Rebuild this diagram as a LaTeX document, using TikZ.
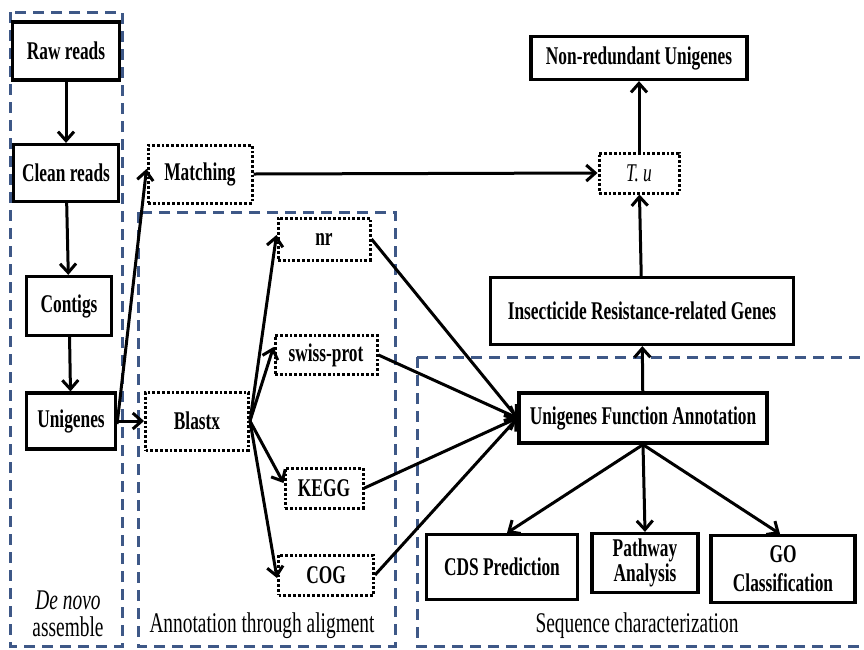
\documentclass[tikz,border=0pt]{standalone}
\usepackage{fontspec}
\setmainfont{Liberation Serif}[FakeStretch=0.68]
\usetikzlibrary{arrows.meta}
\definecolor{dashblue}{RGB}{62,88,135}
\begin{document}
\begin{tikzpicture}[x=1pt,y=-1pt,
  box/.style={draw, line width=3.2pt, inner sep=0pt, align=center, font=\fontsize{25.5}{26}\selectfont\bfseries},
  dbox/.style={box, line width=3pt, dash pattern=on 2.8pt off 2pt},
  grp/.style={draw=dashblue, line width=3pt, dash pattern=on 11pt off 7pt},
  arr/.style={line width=3pt, -{Straight Barb[length=9pt,width=16pt,line width=3pt]}},
  lab/.style={font=\fontsize{28.5}{27}\selectfont, align=center, inner sep=0pt}
]
\useasboundingbox (0,0) rectangle (864,649);
\begin{scope}
\clip (0,0) rectangle (864,649);
% group frames
\draw[grp] (10,12) rectangle (122,646);
\draw[grp] (138,212) rectangle (395,646);
\draw[grp] (417,357) -- (880,357);
\draw[grp] (417,357) -- (417,646) -- (880,646);
\end{scope}
% nodes
\node[box, minimum width=107pt, minimum height=58pt] (raw) at (66,51) {Raw reads};
\node[box, minimum width=105pt, minimum height=57pt] (clean) at (66,173) {Clean reads};
\node[box, minimum width=85pt, minimum height=59pt] (contig) at (69,306) {Contigs};
\node[box, minimum width=89pt, minimum height=56pt] (uni) at (71,421) {Unigenes};
\node[dbox, minimum width=104pt, minimum height=58pt] (match) at (200,174) {Matching};
\node[dbox, minimum width=103pt, minimum height=58pt] (blast) at (197,421) {Blastx};
\node[dbox, minimum width=92pt, minimum height=42pt] (nr) at (324,239) {nr};
\node[dbox, minimum width=102pt, minimum height=39pt] (swiss) at (326,355) {swiss-prot};
\node[dbox, minimum width=78pt, minimum height=40pt] (kegg) at (324,488) {KEGG};
\node[dbox, minimum width=95pt, minimum height=40pt] (cog) at (326,575) {COG};
\node[box, minimum width=216pt, minimum height=43pt] (nonred) at (639,58) {Non-redundant Unigenes};
\node[dbox, minimum width=80pt, minimum height=40pt, font=\fontsize{25.5}{26}\selectfont\itshape] (tu) at (639,173) {T. u};
\node[box, minimum width=303pt, minimum height=67pt] (insect) at (642,311) {Insecticide Resistance-related Genes};
\node[box, minimum width=248pt, minimum height=50pt] (ufa) at (643,418) {Unigenes Function Annotation};
\node[box, minimum width=151pt, minimum height=65pt] (cds) at (502,567) {CDS Prediction};
\node[box, minimum width=106pt, minimum height=59pt, font=\fontsize{25.5}{25}\selectfont\bfseries] (path) at (645,563) {Pathway\\Analysis};
\node[box, minimum width=144pt, minimum height=67pt, font=\fontsize{25.5}{29}\selectfont\bfseries] (go) at (783,569) {GO\\Classification};
% labels
\node[lab] (lab1) at (68,614) {\itshape De novo\\assemble};
\node[lab] (lab2) at (262,626) {Annotation through aligment};
\node[lab] (lab3) at (637,626) {Sequence characterization};
% connectors
\draw[arr] (raw) -- (clean);
\draw[arr] (clean) -- (contig);
\draw[arr] (contig) -- (uni);
\draw[arr] ([yshift=-3pt]uni.east) -- ([yshift=5pt]match.west);
\draw[arr] (uni.east) -- (blast.west);
\draw[arr] (blast.east) -- ([yshift=4pt]nr.west);
\draw[arr] (blast.east) -- ([yshift=8pt]swiss.west);
\draw[arr] (blast.east) -- ([yshift=5pt]kegg.west);
\draw[arr] (blast.east) -- ([yshift=-3pt]cog.west);
\draw[arr] (nr.east) -- (ufa.west);
\draw[arr] (swiss.east) -- (ufa.west);
\draw[arr] (kegg.east) -- (ufa.west);
\draw[arr] (cog.east) -- (ufa.west);
\draw[arr] (match.east) -- (tu.west);
\draw[arr] (tu) -- (nonred);
\draw[arr] (insect) -- (tu);
\draw[arr] (ufa) -- (insect);
\draw[arr] (ufa.south) -- ([xshift=5pt]cds.north);
\draw[arr] (ufa.south) -- (path.north);
\draw[arr] (ufa.south) -- ([xshift=-3pt]go.north);
\end{tikzpicture}
\end{document}
